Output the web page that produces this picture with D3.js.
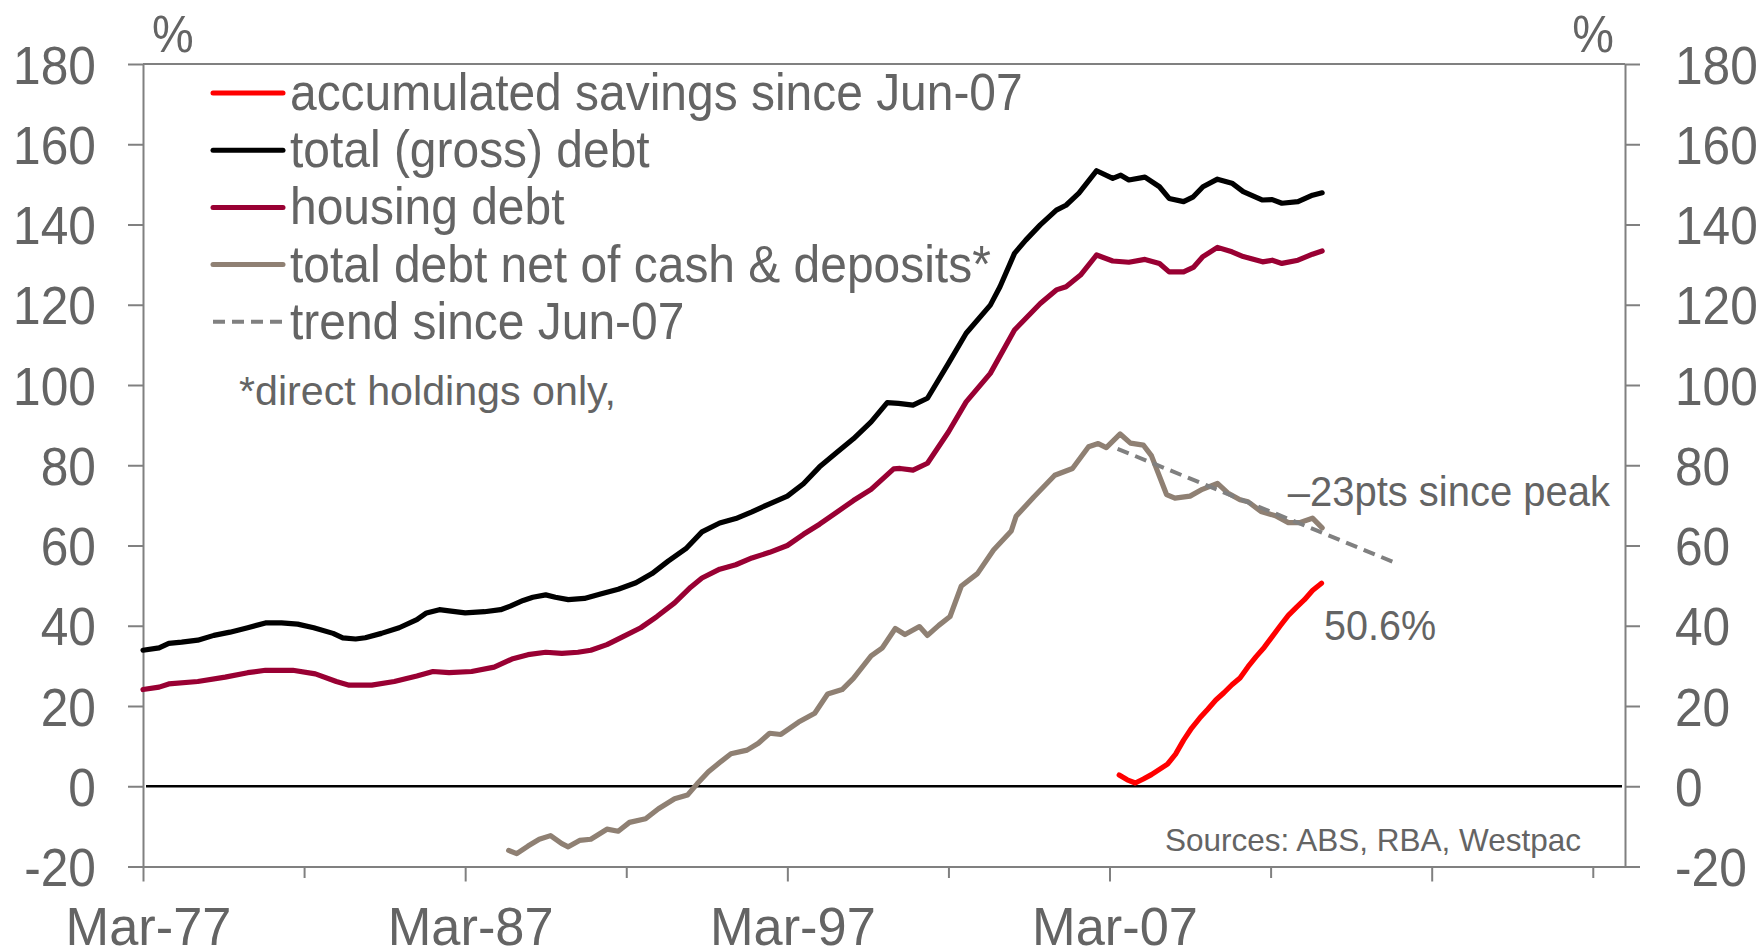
<!DOCTYPE html>
<html>
<head>
<meta charset="utf-8">
<script src="https://cdn.jsdelivr.net/npm/d3@7"></script>
<style>
  html, body { margin: 0; padding: 0; background: #ffffff; }
  svg { display: block; }
</style>
</head>
<body>
<svg id="chart" width="1763" height="951"></svg>
<script>
// Household debt ratios, % of income (quarterly observations, decimal years; Mar-77 = 1977.0)
const grossDates = [1977.0, 1977.5, 1977.8, 1978.2, 1978.7, 1979.2, 1979.7, 1980.25, 1980.8, 1981.3, 1981.8, 1982.3, 1982.9, 1983.2, 1983.6, 1983.9, 1984.4, 1984.95, 1985.5, 1985.8, 1986.2, 1986.5, 1987.0, 1987.6, 1988.1, 1988.4, 1988.8, 1989.1, 1989.5, 1989.8, 1990.2, 1990.7, 1991.2, 1991.75, 1992.3, 1992.8, 1993.3, 1993.85, 1994.35, 1994.9, 1995.4, 1995.9, 1996.45, 1997.0, 1997.5, 1998.0, 1998.55, 1999.05, 1999.6, 2000.1, 2000.45, 2000.9, 2001.35, 2002.0, 2002.55, 2003.3, 2003.6, 2004.05, 2004.4, 2004.85, 2005.35, 2005.65, 2006.05, 2006.6, 2007.1, 2007.35, 2007.6, 2008.1, 2008.55, 2008.85, 2009.3, 2009.6, 2009.9, 2010.35, 2010.8, 2011.15, 2011.75, 2012.05, 2012.35, 2012.85, 2013.3, 2013.6];
const grossDebt = [33.9, 34.5, 35.6, 35.9, 36.4, 37.6, 38.4, 39.5, 40.7, 40.7, 40.4, 39.5, 38.1, 37.0, 36.7, 37.0, 38.1, 39.5, 41.5, 43.2, 44.0, 43.7, 43.2, 43.5, 44.0, 44.9, 46.3, 47.1, 47.7, 47.1, 46.5, 46.8, 47.9, 49.1, 50.7, 53.0, 56.1, 59.2, 63.4, 65.6, 66.7, 68.4, 70.4, 72.3, 75.4, 79.6, 83.3, 86.6, 90.8, 95.6, 95.4, 95.0, 96.7, 105.4, 112.9, 119.9, 124.5, 132.8, 136.1, 139.9, 143.6, 144.8, 147.8, 153.4, 151.5, 152.3, 151.1, 151.8, 149.4, 146.5, 145.7, 146.9, 149.4, 151.3, 150.3, 148.2, 146.1, 146.2, 145.3, 145.7, 147.3, 147.9];

const housingDates = [1977.0, 1977.5, 1977.8, 1978.7, 1979.55, 1980.25, 1980.8, 1981.65, 1982.35, 1983.0, 1983.4, 1984.1, 1984.8, 1985.5, 1986.0, 1986.5, 1987.2, 1987.9, 1988.45, 1988.95, 1989.5, 1990.0, 1990.5, 1990.9, 1991.4, 1991.9, 1992.45, 1992.95, 1993.5, 1994.0, 1994.35, 1994.9, 1995.4, 1995.9, 1996.45, 1997.0, 1997.5, 1998.0, 1998.55, 1999.05, 1999.6, 2000.3, 2000.5, 2000.9, 2001.35, 2002.0, 2002.55, 2003.3, 2004.05, 2004.85, 2005.35, 2005.65, 2006.1, 2006.6, 2007.1, 2007.6, 2008.1, 2008.55, 2008.85, 2009.3, 2009.6, 2009.9, 2010.35, 2010.8, 2011.15, 2011.75, 2012.05, 2012.35, 2012.85, 2013.3, 2013.6];
const housingDebt = [24.1, 24.7, 25.5, 26.1, 27.2, 28.3, 28.9, 28.9, 28.0, 26.1, 25.2, 25.2, 26.1, 27.5, 28.6, 28.3, 28.6, 29.7, 31.7, 32.8, 33.4, 33.1, 33.4, 33.9, 35.3, 37.3, 39.5, 42.3, 45.7, 49.6, 51.9, 54.1, 55.2, 56.9, 58.3, 60.0, 62.8, 65.3, 68.4, 71.2, 74.0, 79.1, 79.2, 78.8, 80.5, 88.3, 95.8, 102.9, 113.7, 120.3, 123.7, 124.5, 127.4, 132.4, 130.9, 130.6, 131.3, 130.3, 128.2, 128.2, 129.3, 132.0, 134.3, 133.2, 132.0, 130.7, 131.1, 130.3, 131.1, 132.6, 133.4];

const netDates = [1988.35, 1988.6, 1988.95, 1989.3, 1989.65, 1990.0, 1990.2, 1990.55, 1990.9, 1991.4, 1991.75, 1992.1, 1992.6, 1993.0, 1993.5, 1993.9, 1994.2, 1994.55, 1994.9, 1995.25, 1995.75, 1996.1, 1996.45, 1996.8, 1997.35, 1997.85, 1998.25, 1998.7, 1999.05, 1999.6, 1999.95, 2000.35, 2000.65, 2001.1, 2001.35, 2001.7, 2002.05, 2002.4, 2002.9, 2003.4, 2003.95, 2004.1, 2004.65, 2005.3, 2005.85, 2006.35, 2006.65, 2006.9, 2007.33, 2007.65, 2008.05, 2008.3, 2008.77, 2009.03, 2009.5, 2009.88, 2010.35, 2010.67, 2011.05, 2011.3, 2011.7, 2012.15, 2012.55, 2012.9, 2013.3, 2013.6];
const netDebt = [-16.0, -16.8, -14.9, -13.2, -12.3, -14.3, -15.1, -13.5, -13.2, -10.7, -11.2, -9.0, -8.1, -5.6, -3.1, -2.2, 0.6, 3.6, 5.9, 8.1, 9.0, 10.7, 13.2, 12.9, 16.0, 18.2, 23.0, 24.1, 26.9, 32.5, 34.5, 39.3, 37.8, 39.8, 37.6, 40.1, 42.3, 49.9, 53.0, 58.9, 63.6, 67.3, 72.1, 77.5, 79.2, 84.6, 85.4, 84.4, 87.8, 85.5, 85.0, 82.4, 72.7, 71.8, 72.3, 74.0, 75.5, 73.1, 71.4, 70.9, 68.5, 67.4, 65.7, 65.7, 66.8, 64.4];

const savingsDates = [2007.3, 2007.55, 2007.8, 2008.05, 2008.3, 2008.55, 2008.8, 2009.05, 2009.3, 2009.55, 2009.8, 2010.05, 2010.3, 2010.55, 2010.8, 2011.05, 2011.3, 2011.55, 2011.8, 2012.05, 2012.3, 2012.55, 2012.8, 2013.05, 2013.3, 2013.58];
const savings = [2.8, 1.6, 0.8, 1.8, 2.9, 4.2, 5.5, 8.0, 11.5, 14.5, 17.0, 19.2, 21.5, 23.3, 25.3, 27.0, 29.8, 32.3, 34.6, 37.3, 40.0, 42.6, 44.6, 46.5, 48.8, 50.6];

const trendDates = [2007.25, 2015.9];
const trend = [84.1, 55.6];

const yTicks = [-20, 0, 20, 40, 60, 80, 100, 120, 140, 160, 180];
const xTickYears = [1977, 1982, 1987, 1992, 1997, 2002, 2007, 2012, 2017, 2022];
const xMajorYears = [1977, 1987, 1997, 2007, 2017];
const xLabelYears = [1977, 1987, 1997, 2007];
const xLabels = ["Mar-77", "Mar-87", "Mar-97", "Mar-07"];

const legendNames = ["accumulated savings since Jun-07", "total (gross) debt", "housing debt", "total debt net of cash & deposits*", "trend since Jun-07"];
const legendColors = ["#ff0000", "#000000", "#990033", "#8f8073", "#808080"];

// ---------------------------------------------------------------
const svg = d3.select("#chart");
const FONT = "'Liberation Sans', Arial, Helvetica, sans-serif";
const TEXT = "#646464";
const AXIS = "#808080";

const x = d3.scaleLinear().domain([1977, 2023]).range([143, 1625]);
const y = d3.scaleLinear().domain([-20, 180]).range([866.5, 64]);

// narrow-set text: scaled horizontally about its anchor point
function label(px, py, str, size, sx, anchor) {
  return svg.append("text")
    .attr("transform", `translate(${px},${py}) scale(${sx},1)`)
    .attr("text-anchor", anchor || "start")
    .attr("font-family", FONT)
    .attr("font-size", size)
    .attr("fill", TEXT)
    .text(str);
}

// frame top edge
svg.append("line")
  .attr("x1", x.range()[0]).attr("x2", x.range()[1])
  .attr("y1", y(180)).attr("y2", y(180))
  .attr("stroke", AXIS).attr("stroke-width", 2);

const plainNum = d => String(d);   // hyphen-minus for negatives

// left axis
const ySX = 0.92;
const gL = svg.append("g").attr("transform", `translate(${x.range()[0]},0)`)
  .call(d3.axisLeft(y).tickValues(yTicks).tickSize(15).tickSizeOuter(0).tickFormat(plainNum));
gL.selectAll("text")
  .attr("x", null).attr("dy", null)
  .attr("transform", `translate(-47,19) scale(${ySX},1)`)
  .attr("font-size", 54).attr("font-family", FONT).attr("fill", TEXT);

// right axis
const gR = svg.append("g").attr("transform", `translate(${x.range()[1]},0)`)
  .call(d3.axisRight(y).tickValues(yTicks).tickSize(15).tickSizeOuter(0).tickFormat(plainNum));
gR.selectAll("text")
  .attr("x", null).attr("dy", null)
  .attr("transform", `translate(50,19) scale(${ySX},1)`)
  .attr("font-size", 54).attr("font-family", FONT).attr("fill", TEXT);

// bottom axis
const gB = svg.append("g").attr("transform", `translate(0,${y(-20)})`)
  .call(d3.axisBottom(x).tickValues(xTickYears).tickSize(11.5).tickSizeOuter(0)
    .tickFormat(d => { const i = xLabelYears.indexOf(d); return i >= 0 ? xLabels[i] : ""; }));
gB.selectAll(".tick line").filter(d => xMajorYears.includes(d)).attr("y2", 15);
gB.selectAll("text")
  .attr("y", null).attr("dy", null)
  .attr("transform", `translate(5,78) scale(0.97,1)`)
  .attr("font-size", 54).attr("font-family", FONT).attr("fill", TEXT);

[gL, gR, gB].forEach(g => {
  g.selectAll("path.domain").attr("stroke", AXIS).attr("stroke-width", 2);
  g.selectAll(".tick line").attr("stroke", AXIS).attr("stroke-width", 2);
});

// zero line
svg.append("line")
  .attr("x1", x.range()[0] + 3).attr("x2", x.range()[1] - 3)
  .attr("y1", y(0)).attr("y2", y(0))
  .attr("stroke", "#000").attr("stroke-width", 2.5);

// "%" unit labels
label(152, 52, "%", 51, 0.92, "start");
label(1614, 52, "%", 51, 0.92, "end");

// series
const line = d3.line().x(d => x(d[0])).y(d => y(d[1]));
function series(dates, vals, color, dash) {
  const p = svg.append("path")
    .datum(d3.zip(dates, vals))
    .attr("d", line)
    .attr("fill", "none")
    .attr("stroke", color)
    .attr("stroke-width", dash ? 4 : 5.2)
    .attr("stroke-linejoin", "round")
    .attr("stroke-linecap", dash ? "butt" : "round");
  if (dash) p.attr("stroke-dasharray", dash);
  return p;
}
series(netDates, netDebt, legendColors[3]);
series(trendDates, trend, legendColors[4], "12,7");
series(housingDates, housingDebt, legendColors[2]);
series(grossDates, grossDebt, legendColors[1]);
series(savingsDates, savings, legendColors[0]);

// legend
legendNames.forEach((name, i) => {
  const cy = 93 + i * 57.2;
  const dashed = i === 4;
  svg.append("line")
    .attr("x1", 213).attr("x2", 283).attr("y1", cy).attr("y2", cy)
    .attr("stroke", legendColors[i]).attr("stroke-width", dashed ? 4 : 5)
    .attr("stroke-linecap", dashed ? "butt" : "round")
    .attr("stroke-dasharray", dashed ? "12,7" : null);
  label(290, cy + 17, name, 51, 0.94, "start");
});

// notes and annotations
label(239, 405, "*direct holdings only,", 40, 1.03, "start");
label(1610, 506, "\u201323pts since peak", 43, 0.93, "end");
label(1324, 640, savings[savings.length - 1].toFixed(1) + "%", 43, 0.92, "start");
label(1581, 851, "Sources: ABS, RBA, Westpac", 31.5, 1.0, "end");
</script>
</body>
</html>
